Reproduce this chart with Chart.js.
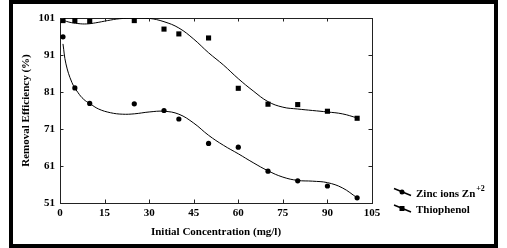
<!DOCTYPE html>
<html lang="en">
<head>
  <meta charset="UTF-8" />
  <title>Removal Efficiency</title>
  <style>
    html, body { margin: 0; padding: 0; background: #fff; }
    .wrap { position: relative; width: 507px; height: 248px; }
    .frame {
      position: absolute; left: 9px; top: 0; width: 489px; height: 248px;
      box-sizing: border-box; border: 4.5px solid #000; pointer-events: none;
    }
  </style>
</head>
<body>
  <div class="wrap">
    <canvas id="removalChart" width="507" height="248"></canvas>
    <div class="frame"></div>
  </div>

  <script src="https://cdn.jsdelivr.net/npm/chart.js"></script>
  <script>
    // measured points
    const concentrations = [1, 5, 10, 25, 35, 40, 50, 60, 70, 80, 90, 100];
    const zincRemoval = [95.9, 82.1, 77.9, 77.8, 76.0, 73.7, 67.1, 66.1, 59.6, 57.0, 55.6, 52.4];
    const thiophenolRemoval = [100.3, 100.3, 100.1, 100.3, 98.0, 96.7, 95.6, 82.0, 77.7, 77.6, 75.8, 73.9];

    // fitted curves
    const zincFitX = [1, 2, 4, 6, 8, 10, 13, 17, 21, 25, 30, 35, 40, 45, 50, 55, 60, 65, 70, 75, 80, 85, 90, 95, 100];
    const zincFitY = [94.0, 88.6, 83.6, 80.9, 79.0, 77.9, 76.4, 75.4, 75.0, 75.1, 75.6, 75.8, 75.0, 72.6, 69.3, 66.6, 64.3, 61.9, 59.7, 58.0, 57.1, 56.9, 56.5, 55.1, 52.4];
    const thioFitX = [0, 3, 6, 9, 12, 16, 20, 25, 30, 35, 40, 45, 50, 55, 60, 65, 70, 75, 80, 85, 90, 95, 100];
    const thioFitY = [100.7, 99.9, 99.5, 99.4, 99.7, 100.3, 100.8, 101.0, 100.9, 100.0, 98.3, 95.3, 91.6, 88.3, 84.6, 81.3, 78.4, 76.9, 76.4, 76.0, 75.6, 75.1, 74.0];

    const xTicks = { min: 0, max: 105, step: 15 };
    const yTicks = { min: 51, max: 101, step: 10 };

    const serif = '"Liberation Serif", "Times New Roman", serif';
    const toPoints = (xs, ys) => xs.map((x, i) => ({ x: x, y: ys[i] }));

    // inward tick marks on all four sides
    const innerTicks = {
      id: 'innerTicks',
      afterDraw(chart) {
        const ctx = chart.ctx;
        const a = chart.chartArea;
        const len = 3.5;
        ctx.save();
        ctx.strokeStyle = '#222';
        ctx.lineWidth = 1;
        ctx.beginPath();
        ['x', 'x2'].forEach(id => {
          const s = chart.scales[id];
          s.ticks.forEach(t => {
            const px = Math.round(s.getPixelForValue(t.value)) + 0.5;
            if (id === 'x') { ctx.moveTo(px, a.bottom); ctx.lineTo(px, a.bottom - len); }
            else { ctx.moveTo(px, a.top); ctx.lineTo(px, a.top + len); }
          });
        });
        ['y', 'y2'].forEach(id => {
          const s = chart.scales[id];
          s.ticks.forEach(t => {
            const py = Math.round(s.getPixelForValue(t.value)) + 0.5;
            if (id === 'y') { ctx.moveTo(a.left, py); ctx.lineTo(a.left + len, py); }
            else { ctx.moveTo(a.right, py); ctx.lineTo(a.right - len, py); }
          });
        });
        ctx.stroke();
        ctx.restore();
      }
    };

    // legend: slanted line with marker, label supports ^superscript
    const sideLegend = {
      id: 'sideLegend',
      afterDraw(chart) {
        const ctx = chart.ctx;
        const items = chart.data.datasets.filter(d => d.legendItem);
        ctx.save();
        items.forEach((d, i) => {
          const y = 192 + i * 16.5;
          ctx.strokeStyle = '#000';
          ctx.lineWidth = 1.4;
          ctx.beginPath();
          ctx.moveTo(394, y - 3.5);
          ctx.lineTo(411, y + 3.5);
          ctx.stroke();
          ctx.fillStyle = '#000';
          ctx.beginPath();
          if (d.pointStyle === 'rect') ctx.rect(399.5, y - 2.5, 5, 5);
          else ctx.arc(402, y, 2.5, 0, Math.PI * 2);
          ctx.fill();

          const parts = d.label.split('^');
          ctx.textBaseline = 'middle';
          ctx.textAlign = 'left';
          ctx.font = 'bold 11px ' + serif;
          ctx.fillText(parts[0], 416, y + 2);
          if (parts[1]) {
            const w = ctx.measureText(parts[0]).width;
            ctx.font = 'bold 8px ' + serif;
            ctx.fillText(parts[1], 416 + w + 1, y - 3.5);
          }
        });
        ctx.restore();
      }
    };

    const tickFont = { family: serif, size: 11, weight: 'bold' };
    const titleFont = { family: serif, size: 11, weight: 'bold' };
    const frameBorder = { display: true, color: '#222', width: 1 };

    new Chart(document.getElementById('removalChart'), {
      type: 'scatter',
      data: {
        datasets: [
          {
            label: 'Zinc ions Zn^+2',
            legendItem: true,
            data: toPoints(concentrations, zincRemoval),
            pointStyle: 'circle',
            pointRadius: 2.6,
            backgroundColor: '#000',
            borderColor: '#000',
            borderWidth: 0
          },
          {
            label: 'Thiophenol',
            legendItem: true,
            data: toPoints(concentrations, thiophenolRemoval),
            pointStyle: 'rect',
            pointRadius: 3.6,
            backgroundColor: '#000',
            borderColor: '#000',
            borderWidth: 0
          },
          {
            label: 'Zinc fit',
            data: toPoints(zincFitX, zincFitY),
            showLine: true,
            tension: 0.4,
            pointRadius: 0,
            borderColor: '#000',
            borderWidth: 1
          },
          {
            label: 'Thiophenol fit',
            data: toPoints(thioFitX, thioFitY),
            showLine: true,
            tension: 0.4,
            pointRadius: 0,
            borderColor: '#000',
            borderWidth: 1
          }
        ]
      },
      options: {
        responsive: false,
        animation: false,
        devicePixelRatio: 1,
        layout: { padding: 0 },
        plugins: {
          legend: { display: false },
          tooltip: { enabled: false }
        },
        scales: {
          x: {
            type: 'linear',
            position: 'bottom',
            min: xTicks.min,
            max: xTicks.max,
            ticks: { stepSize: xTicks.step, color: '#000', font: tickFont, padding: 4, maxRotation: 0 },
            grid: { display: false, drawTicks: false },
            border: frameBorder,
            title: {
              display: true,
              text: 'Initial Concentration (mg/l)',
              color: '#000',
              font: titleFont,
              padding: { top: 0, bottom: 9.5 }
            },
            afterFit: s => { s.height = 45; }
          },
          x2: {
            type: 'linear',
            position: 'top',
            min: xTicks.min,
            max: xTicks.max,
            ticks: { stepSize: xTicks.step, display: false },
            grid: { display: false, drawTicks: false },
            border: frameBorder,
            afterFit: s => { s.height = 18; }
          },
          y: {
            type: 'linear',
            position: 'left',
            min: yTicks.min,
            max: yTicks.max,
            ticks: { stepSize: yTicks.step, color: '#000', font: tickFont, padding: 5 },
            grid: { display: false, drawTicks: false },
            border: frameBorder,
            title: {
              display: true,
              text: 'Removal Efficiency (%)',
              color: '#000',
              font: titleFont,
              padding: { top: 20, bottom: 0 }
            },
            afterFit: s => { s.width = 60; }
          },
          y2: {
            type: 'linear',
            position: 'right',
            min: yTicks.min,
            max: yTicks.max,
            ticks: { stepSize: yTicks.step, display: false },
            grid: { display: false, drawTicks: false },
            border: frameBorder,
            afterFit: s => { s.width = 135; }
          }
        }
      },
      plugins: [innerTicks, sideLegend]
    });
  </script>
</body>
</html>
